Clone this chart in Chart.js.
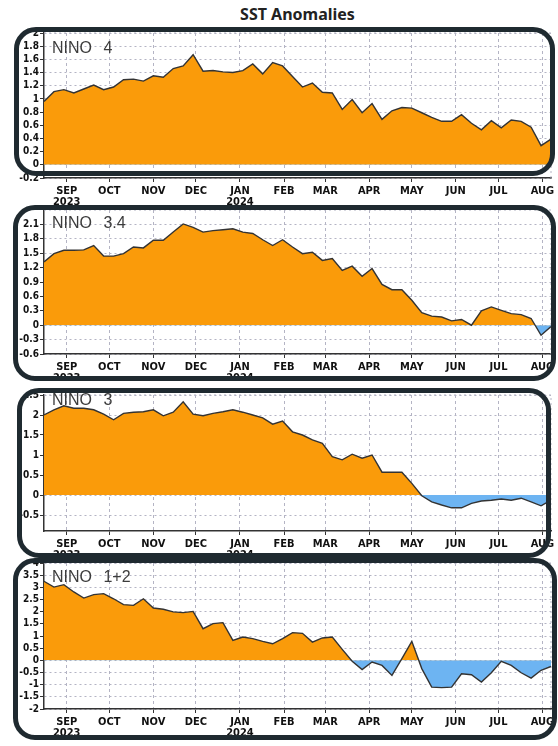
<!DOCTYPE html>
<html>
<head>
<meta charset="utf-8">
<title>SST Anomalies</title>
<script src="https://cdn.jsdelivr.net/npm/chart.js@4.4.1/dist/chart.umd.min.js"></script>
<style>
  body { margin: 0; background: #fff; }
  #wrap { position: relative; width: 558px; height: 746px; overflow: hidden; }
  canvas { position: absolute; left: 0; }
  .box { position: absolute; box-sizing: border-box; border: 5px solid #1f2a30; border-radius: 22px; pointer-events: none; }
  .name { position: absolute; left: 52px; font: 16px/16px 'Liberation Sans', Arial, sans-serif; color: #3c3c3c; word-spacing: 7px; white-space: pre; }
  #title { position: absolute; top: 5px; left: 44px; width: 507px; text-align: center; font: bold 16px/18px 'Noto Sans', sans-serif; color: #222; }
</style>
</head>
<body>
<div id="wrap">
  <div id="title">SST Anomalies</div>
  <canvas id="c4" width="558" height="178" style="top:30px"></canvas>
  <canvas id="c34" width="558" height="177" style="top:207px"></canvas>
  <canvas id="c3" width="558" height="169" style="top:392px"></canvas>
  <canvas id="c12" width="558" height="179" style="top:560px"></canvas>
  <div class="name" style="top:40px">NINO 4</div>
  <div class="name" style="top:215px">NINO 3.4</div>
  <div class="name" style="top:392px">NINO 3</div>
  <div class="name" style="top:569px">NINO 1+2</div>
  <div class="box" style="left:14px;top:27px;width:541px;height:149px"></div>
  <div class="box" style="left:13px;top:205px;width:543px;height:176px"></div>
  <div class="box" style="left:17px;top:388px;width:534px;height:170px"></div>
  <div class="box" style="left:13px;top:558px;width:544px;height:182px"></div>
</div>
<script>
// weekly values (Wednesday-centred weeks)
const weeks = ['2023-08-16','2023-08-23','2023-08-30','2023-09-06','2023-09-13','2023-09-20','2023-09-27',
  '2023-10-04','2023-10-11','2023-10-18','2023-10-25','2023-11-01','2023-11-08','2023-11-15','2023-11-22',
  '2023-11-29','2023-12-06','2023-12-13','2023-12-20','2023-12-27','2024-01-03','2024-01-10','2024-01-17',
  '2024-01-24','2024-01-31','2024-02-07','2024-02-14','2024-02-21','2024-02-28','2024-03-06','2024-03-13',
  '2024-03-20','2024-03-27','2024-04-03','2024-04-10','2024-04-17','2024-04-24','2024-05-01','2024-05-08',
  '2024-05-15','2024-05-22','2024-05-29','2024-06-05','2024-06-12','2024-06-19','2024-06-26','2024-07-03',
  '2024-07-10','2024-07-17','2024-07-24','2024-07-31','2024-08-07'];

const nino4 = [0.96,1.11,1.14,1.09,1.15,1.21,1.14,1.18,1.29,1.30,1.27,1.35,1.33,1.46,1.50,1.67,1.42,1.43,1.41,1.40,
  1.43,1.53,1.38,1.55,1.50,1.34,1.18,1.24,1.10,1.09,0.84,0.99,0.79,0.93,0.69,0.82,0.87,0.86,0.79,0.72,
  0.66,0.66,0.76,0.63,0.53,0.67,0.56,0.68,0.66,0.57,0.29,0.39];
const nino34 = [1.32,1.49,1.56,1.56,1.57,1.66,1.44,1.44,1.49,1.63,1.61,1.77,1.77,1.94,2.11,2.04,1.94,1.97,1.99,2.01,
  1.94,1.91,1.78,1.66,1.78,1.63,1.49,1.52,1.35,1.39,1.14,1.23,1.02,1.18,0.85,0.74,0.74,0.52,0.26,0.19,
  0.17,0.09,0.12,0.0,0.30,0.38,0.31,0.24,0.22,0.14,-0.21,-0.03];
const nino3 = [2.00,2.13,2.23,2.17,2.17,2.13,2.02,1.88,2.04,2.07,2.08,2.13,1.98,2.07,2.33,2.02,1.98,2.04,2.08,2.13,
  2.07,2.00,1.93,1.77,1.85,1.58,1.50,1.38,1.29,0.96,0.88,1.02,0.92,1.00,0.57,0.57,0.57,0.29,-0.02,-0.17,
  -0.25,-0.32,-0.32,-0.21,-0.15,-0.13,-0.10,-0.13,-0.08,-0.17,-0.27,-0.13];
const nino12 = [3.25,3.01,3.11,2.81,2.56,2.70,2.74,2.53,2.29,2.26,2.53,2.15,2.10,1.99,1.96,2.01,1.30,1.51,1.55,0.82,
  0.96,0.89,0.78,0.68,0.89,1.14,1.11,0.75,0.92,0.96,0.45,-0.04,-0.38,-0.07,-0.21,-0.62,0.07,0.78,-0.34,-1.10,
  -1.12,-1.10,-0.55,-0.59,-0.89,-0.51,-0.04,-0.21,-0.51,-0.73,-0.41,-0.25];

const monthStarts = ['2023-09-01','2023-10-01','2023-11-01','2023-12-01','2024-01-01','2024-02-01',
  '2024-03-01','2024-04-01','2024-05-01','2024-06-01','2024-07-01','2024-08-01'];
const monthLabels = ['SEP','OCT','NOV','DEC','JAN','FEB','MAR','APR','MAY','JUN','JUL','AUG'];
const yearLabels = ['2023','','','','2024','','','','','','',''];

const yTicks4 = [-0.2,0,0.2,0.4,0.6,0.8,1,1.2,1.4,1.6,1.8,2];
const yTicks34 = [-0.6,-0.3,0,0.3,0.6,0.9,1.2,1.5,1.8,2.1];
const yTicks3 = [-0.5,0,0.5,1,1.5,2,2.5];
const yTicks12 = [-2,-1.5,-1,-0.5,0,0.5,1,1.5,2,2.5,3,3.5,4];

const ORANGE = '#fa9b0a';
const BLUE = '#6db4f2';
const GRID = '#b4b4c4';
const day = s => (Date.parse(s) - Date.parse(weeks[0])) / 864e5;
const tickFont = { family: "'DejaVu Sans Condensed', 'Liberation Sans Narrow', sans-serif", weight: 'bold' };

const frame = {
  id: 'frame',
  beforeDatasetsDraw(chart) {
    const { ctx, chartArea: a } = chart;
    ctx.save();
    ctx.strokeStyle = GRID;
    ctx.lineWidth = 1;
    ctx.setLineDash([2, 3]);
    ctx.beginPath();
    ctx.moveTo(a.left, a.top);
    ctx.lineTo(a.right, a.top);
    ctx.lineTo(a.right, a.bottom);
    ctx.stroke();
    ctx.restore();
  }
};

function panel(id, values, yTicks, min, max) {
  new Chart(document.getElementById(id), {
    type: 'line',
    data: {
      datasets: [{
        data: values.map((v, i) => ({ x: day(weeks[i]), y: v })),
        borderColor: '#333',
        borderWidth: 1.4,
        pointRadius: 0,
        tension: 0,
        fill: { target: { value: 0 }, above: ORANGE, below: BLUE }
      }]
    },
    options: {
      responsive: false,
      animation: false,
      layout: { padding: { top: 3, right: 7, left: 0, bottom: 0 } },
      plugins: { legend: { display: false }, tooltip: { enabled: false } },
      scales: {
        x: {
          type: 'linear',
          min: 0,
          max: day(weeks[weeks.length - 1]),
          afterBuildTicks: s => { s.ticks = monthStarts.map(d => ({ value: day(d) })); },
          afterFit: s => { s.height = 30; s.paddingLeft = 0; s.paddingRight = 0; },
          grid: { color: GRID, lineWidth: 1, tickLength: 4, tickColor: '#333' },
          border: { color: '#333', width: 1.5, dash: [3, 3] },
          ticks: {
            autoSkip: false, maxRotation: 0, padding: 3, color: '#111',
            font: { ...tickFont, size: 11, lineHeight: 1.05 },
            callback: (v, i) => yearLabels[i] ? [monthLabels[i], yearLabels[i]] : monthLabels[i]
          }
        },
        y: {
          min: min,
          max: max,
          afterBuildTicks: s => { s.ticks = yTicks.map(v => ({ value: v })); },
          afterFit: s => { s.width = 44; s.paddingTop = 0; s.paddingBottom = 0; },
          grid: { color: GRID, lineWidth: 1, tickLength: 4, tickColor: '#333' },
          border: { color: '#333', width: 1.5, dash: [2, 3] },
          ticks: {
            autoSkip: false, padding: 1, color: '#111',
            font: { ...tickFont, size: 10 },
            callback: v => String(v)
          }
        }
      }
    },
    plugins: [frame]
  });
}

panel('c4', nino4, yTicks4, -0.2, 2);
panel('c34', nino34, yTicks34, -0.6, 2.4);
panel('c3', nino3, yTicks3, -0.9, 2.5);
panel('c12', nino12, yTicks12, -2, 4);
</script>
</body>
</html>
